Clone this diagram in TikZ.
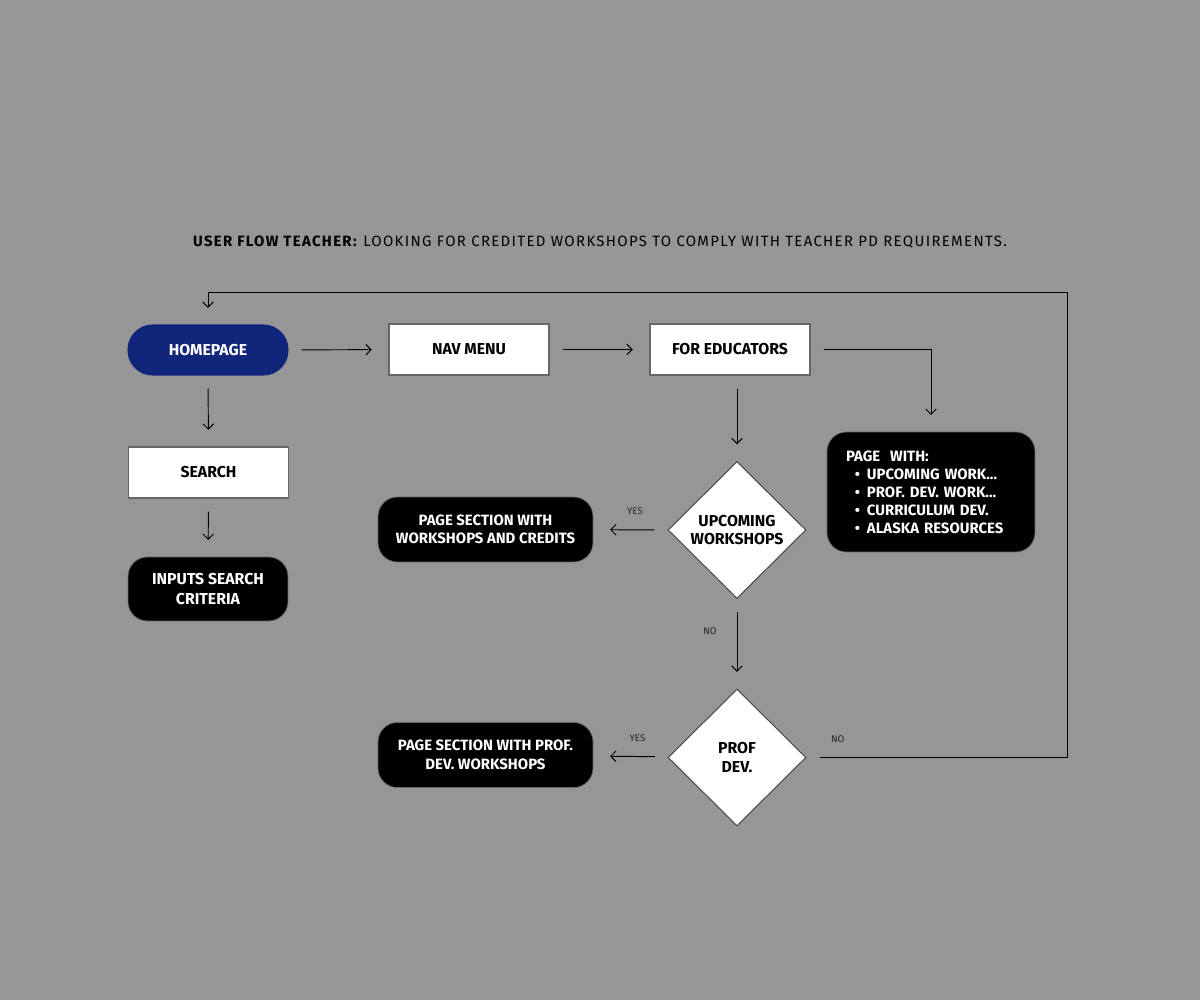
\documentclass[tikz,border=0pt]{standalone}
\usepackage{fontspec}
\setmainfont{Fira Sans}
\usetikzlibrary{shapes.geometric, arrows.meta}
\definecolor{bggray}{HTML}{969696}
\definecolor{homeblue}{HTML}{11267A}

\begin{document}
\begin{tikzpicture}[x=0.02cm, y=-0.02cm,
    >={Straight Barb[length=3pt, width=6pt]},
    flow/.style={->, line width=0.55pt, shorten <=7.5pt, shorten >=9.5pt},
    wbox/.style={draw=black!60, line width=0.6pt, fill=white, minimum width=3.2cm, minimum height=1.02cm, inner sep=0pt, font=\bfseries\fontsize{9}{10.5}\selectfont},
    bbox/.style={draw=black!60, fill=black, text=white, rounded corners=11pt, align=center, inner sep=0pt, font=\bfseries\fontsize{8.5}{10.5}\selectfont},
    choice/.style={diamond, draw=black!70, line width=0.6pt, fill=white, minimum width=2.76cm, minimum height=2.74cm, inner sep=0pt, align=center, font=\bfseries\fontsize{9}{10.5}\selectfont},
    tag/.style={font=\fontsize{5.5}{6.5}\selectfont, text=black!85}]

    % Background
    \fill[bggray] (0,0) rectangle (1200,1000);

    % Title
    \node (title) at (600,242) {\fontsize{8.5}{10}\selectfont\addfontfeatures{LetterSpace=9}\textbf{USER FLOW TEACHER:} LOOKING FOR CREDITED WORKSHOPS TO COMPLY WITH TEACHER PD REQUIREMENTS.};

    % Boxes
    \node[wbox, fill=homeblue, draw=homeblue, text=white, rounded corners=14pt, minimum height=1cm] (home) at (208,350) {HOMEPAGE};
    \node[wbox] (nav) at (469,349.5) {NAV MENU};
    \node[wbox] (edu) at (730,349.5) {FOR EDUCATORS};
    \node[wbox] (search) at (208.5,472.5) {SEARCH};
    \node[bbox, minimum width=3.2cm, minimum height=1.28cm, font=\bfseries\fontsize{9}{11}\selectfont] (inputs) at (208,589) {INPUTS SEARCH\\CRITERIA};
    \node[bbox, minimum width=4.16cm, minimum height=2.4cm, text width=3.4cm, align=left, font=\bfseries\fontsize{8.5}{10.2}\selectfont] (pagewith) at (931,492)
        {PAGE\ \ WITH:\\
         \hspace*{5pt}\textbullet\hspace{4pt}UPCOMING WORK...\\
         \hspace*{5pt}\textbullet\hspace{4pt}PROF. DEV. WORK...\\
         \hspace*{5pt}\textbullet\hspace{4pt}CURRICULUM DEV.\\
         \hspace*{5pt}\textbullet\hspace{4pt}ALASKA RESOURCES};

    % Decisions
    \node[choice] (upc) at (737,530) {UPCOMING\\WORKSHOPS};
    \node[bbox, minimum width=4.3cm, minimum height=1.3cm] (sec1) at (485.5,529.5) {PAGE SECTION WITH\\WORKSHOPS AND CREDITS};
    \node[choice] (prof) at (737,757.5) {PROF\\DEV.};
    \node[bbox, minimum width=4.3cm, minimum height=1.3cm] (sec2) at (485.5,755) {PAGE SECTION WITH PROF.\\DEV. WORKSHOPS};
    \coordinate (loop) at (1067,292);

    % Arrows
    \draw[flow] (home) -- (nav);
    \draw[flow] (nav) -- (edu);
    \draw[flow] (edu.east) -| (pagewith.north);
    \draw[flow] (upc.north |- edu.south) -- (upc.north);
    \draw[flow] (home) -- (search);
    \draw[flow] (search) -- (inputs);
    \draw[flow] (upc) -- node[tag, above=5pt, pos=0.44] {YES} (sec1);
    \draw[flow] (upc) -- node[tag, left=8pt, pos=0.36] {NO} (prof);
    \draw[flow] (prof) -- node[tag, above=5pt, pos=0.41] {YES} (sec2);
    \draw[flow] (prof.east) -| node[tag, above=5pt, pos=0.06] {NO} (loop) -| (home.north);
\end{tikzpicture}
\end{document}
